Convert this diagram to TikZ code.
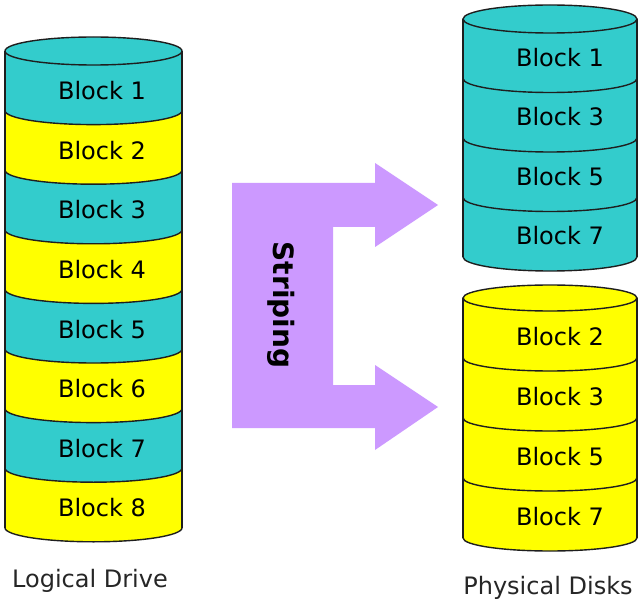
\documentclass[tikz,border=0pt]{standalone}
\usepackage{fontspec}
\setmainfont{DejaVu Sans}
\definecolor{tealc}{RGB}{51,204,204}
\definecolor{yelc}{RGB}{255,255,0}
\definecolor{purc}{RGB}{204,153,255}
\definecolor{edgec}{RGB}{30,30,30}
\newcommand\mycyl[6]{% #1 cx, #2 rx, #3 ry, #4 top y, #5 step, #6 colours
  \foreach \c [count=\i from 0] in {#6} {
    \pgfmathsetmacro\ya{-(#4+\i*#5)}
    \pgfmathsetmacro\yb{-(#4+(\i+1)*#5)}
    \fill[fill=\c] (#1-#2,\ya) arc[start angle=180,end angle=360,x radius=#2,y radius=#3]
      -- (#1+#2,\yb) arc[start angle=0,end angle=-180,x radius=#2,y radius=#3] -- cycle;
  }
  \foreach \c [count=\i from 0] in {#6} {
    \pgfmathsetmacro\ya{-(#4+\i*#5)}
    \pgfmathsetmacro\yb{-(#4+(\i+1)*#5)}
    \draw[edge] (#1-#2,\yb) arc[start angle=180,end angle=360,x radius=#2,y radius=#3];
    \draw[edge] (#1-#2,\ya) -- (#1-#2,\yb) (#1+#2,\ya) -- (#1+#2,\yb);
  }
}
\begin{document}
\begin{tikzpicture}[x=1pt,y=1pt,
  edge/.style={draw=edgec,line width=1.4pt},
  blk/.style={font=\fontsize{24}{28}\selectfont,text=black,inner sep=0pt},
  captext/.style={font=\fontsize{24}{28}\selectfont,text=black!85,inner sep=0pt,anchor=base}]
\useasboundingbox[fill=white] (0,0) rectangle (640,-604);
% left cylinder
\mycyl{93.5}{88.5}{14}{51}{59.6}{tealc,yelc,tealc,yelc,tealc,yelc,tealc,yelc}
\filldraw[fill=tealc,edge] (93.5,-51) ellipse[x radius=88.5,y radius=14];
% right top cylinder
\mycyl{550}{87}{14}{19}{59.5}{tealc,tealc,tealc,tealc}
\filldraw[fill=tealc,edge] (550,-19) ellipse[x radius=87,y radius=14];
% right bottom cylinder
\mycyl{550}{87}{13}{298}{60}{yelc,yelc,yelc,yelc}
\filldraw[fill=yelc,edge] (550,-298) ellipse[x radius=87,y radius=13];
% labels
\node[blk] (l1) at (102,-91) {Block 1};
\node[blk] (l2) at (102,-150.5) {Block 2};
\node[blk] (l3) at (102,-210) {Block 3};
\node[blk] (l4) at (102,-270) {Block 4};
\node[blk] (l5) at (102,-329.5) {Block 5};
\node[blk] (l6) at (102,-389) {Block 6};
\node[blk] (l7) at (102,-448.5) {Block 7};
\node[blk] (l8) at (102,-508) {Block 8};
\node[blk] (a1) at (560,-57.5) {Block 1};
\node[blk] (a2) at (560,-117) {Block 3};
\node[blk] (a3) at (560,-176.5) {Block 5};
\node[blk] (a4) at (560,-236) {Block 7};
\node[blk] (b1) at (560,-337) {Block 2};
\node[blk] (b2) at (560,-397) {Block 3};
\node[blk] (b3) at (560,-457) {Block 5};
\node[blk] (b4) at (560,-517) {Block 7};
\node[captext] (ld) at (90,-587) {Logical Drive};
\node[captext] (pd) at (548,-594) {Physical Disks};
% striping arrow
\fill[purc] (232,-183) -- (375,-183) -- (375,-163) -- (438,-205) -- (375,-247) -- (375,-227)
  -- (333,-227) -- (333,-385) -- (375,-385) -- (375,-365) -- (438,-407) -- (375,-450)
  -- (375,-428) -- (232,-428) -- cycle;
\node[rotate=-90,font=\bfseries\fontsize{28}{30}\selectfont,inner sep=0pt] (st) at (281,-305) {Striping};
\end{tikzpicture}
\end{document}
